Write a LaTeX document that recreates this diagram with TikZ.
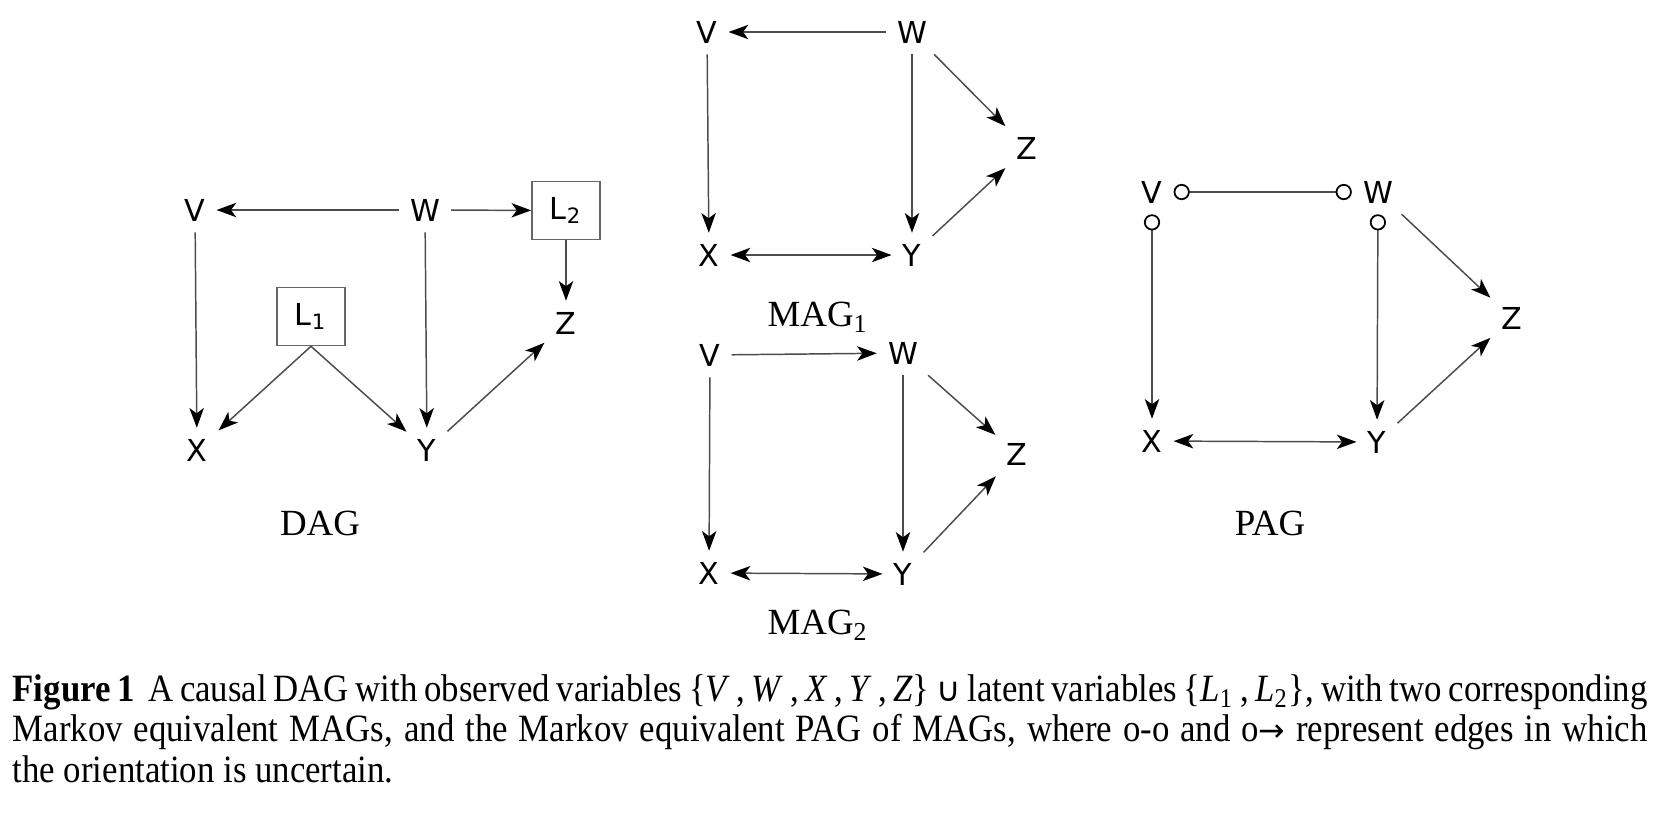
\documentclass[tikz,border=0pt]{standalone}
\usepackage{fontspec}
\setmainfont{Liberation Serif}
\newfontfamily\varfont{DejaVu Sans}
\newfontfamily\capfont[FakeStretch=0.9]{Liberation Serif}
\usetikzlibrary{arrows.meta}

\begin{document}
\begin{tikzpicture}[
  >={Stealth[length=5.6pt,width=4.1pt,inset=1.5pt,color=black]},
  ring/.tip={Circle[open,length=4.6pt,color=black,line width=0.5pt]},
  var/.style={font=\varfont\fontsize{8.6}{10}\selectfont,inner sep=3pt},
  latent/.style={var,draw=black!60,line width=0.45pt,minimum width=6.8mm,
    minimum height=5.8mm,inner sep=1pt},
  title/.style={font=\fontsize{10.5}{12}\selectfont,inner sep=0pt},
  edge/.style={draw=black!70,line width=0.42pt,->},
  bidir/.style={draw=black!70,line width=0.42pt,<->},
  capstyle/.style={font=\capfont\fontsize{11}{11.5}\selectfont,inner sep=0pt,
    text width=16.35cm,align=justify}]
\useasboundingbox (0,0) rectangle (16.57,-8.19);

\node[var] (dagV) at (1.95,-2.10) {V};
\node[var] (dagW) at (4.25,-2.10) {W};
\node[latent] (dagLb) at (5.66,-2.105) {L\textsubscript{2}};
\node[var] (dagZ) at (5.66,-3.23) {Z};
\node[latent] (dagLa) at (3.11,-3.165) {L\textsubscript{1}};
\node[var] (dagX) at (1.97,-4.50) {X};
\node[var] (dagY) at (4.27,-4.50) {Y};
\node[title] (dagT) at (3.20,-5.23) {DAG};

\draw[edge] (dagW)--(dagV);
\draw[edge] (dagW)--(dagLb);
\draw[edge] (dagLb)--(dagZ);
\draw[edge] (dagV)--(dagX);
\draw[edge] (dagW)--(dagY);
\draw[edge] (dagLa.south)--(dagX);
\draw[edge] (dagLa.south)--(dagY);
\draw[edge] (dagY)--(dagZ);

\node[var] (magaV) at (7.07,-0.32) {V};
\node[var] (magaW) at (9.12,-0.32) {W};
\node[var] (magaZ) at (10.27,-1.48) {Z};
\node[var] (magaX) at (7.09,-2.55) {X};
\node[var] (magaY) at (9.12,-2.55) {Y};
\node[title] (magaT) at (8.18,-3.17) {MAG\textsubscript{1}};

\draw[edge] (magaW)--(magaV);
\draw[edge] (magaV)--(magaX);
\draw[edge] (magaW)--(magaY);
\draw[edge] (magaW)--(magaZ);
\draw[edge] (magaY)--(magaZ);
\draw[bidir] (magaX)--(magaY);

\node[var] (magbV) at (7.10,-3.55) {V};
\node[var] (magbW) at (9.03,-3.53) {W};
\node[var] (magbZ) at (10.17,-4.54) {Z};
\node[var] (magbX) at (7.09,-5.73) {X};
\node[var] (magbY) at (9.03,-5.74) {Y};
\node[title] (magbT) at (8.18,-6.25) {MAG\textsubscript{2}};

\draw[edge] (magbV)--(magbW);
\draw[edge] (magbV)--(magbX);
\draw[edge] (magbW)--(magbY);
\draw[edge] (magbW)--(magbZ);
\draw[edge] (magbY)--(magbZ);
\draw[bidir] (magbX)--(magbY);

\node[var] (pagV) at (11.52,-1.92) {V};
\node[var] (pagW) at (13.78,-1.92) {W};
\node[var] (pagZ) at (15.12,-3.18) {Z};
\node[var] (pagX) at (11.52,-4.41) {X};
\node[var] (pagY) at (13.77,-4.42) {Y};
\node[title] (pagT) at (12.70,-5.23) {PAG};

\draw[edge,ring-ring] (pagV)--(pagW);
\draw[edge,ring->] (pagV)--(pagX);
\draw[edge,ring->] (pagW)--(pagY);
\draw[edge] (pagW)--(pagZ);
\draw[edge] (pagY)--(pagZ);
\draw[bidir] (pagX)--(pagY);

\node[capstyle,anchor=north west] (caption) at (0.12,-6.74) {\textbf{Figure 1}\ \ A causal DAG with
  observed variables \{\textit{V}\,,\,\textit{W}\,,\,\textit{X}\,,\,\textit{Y}\,,\,\textit{Z}\}
  {\varfont\fontsize{9.5}{9}\selectfont ∪} latent variables \{\textit{L}\textsubscript{1}\,,\,\textit{L}\textsubscript{2}\},
  with two corresponding\linebreak Markov equivalent MAGs, and the Markov equivalent PAG of MAGs,
  where o-o and o{\varfont\fontsize{9}{9}\selectfont →} represent edges in which\linebreak the orientation is uncertain.};
\end{tikzpicture}
\end{document}
